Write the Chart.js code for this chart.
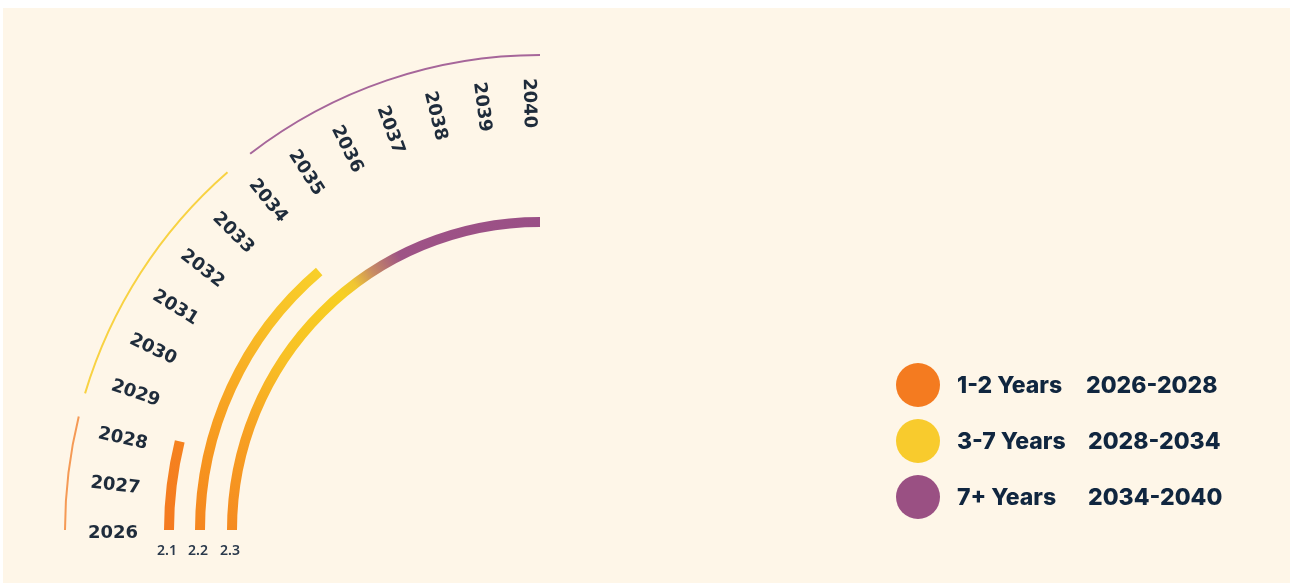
<!DOCTYPE html>
<html>
<head>
<meta charset="utf-8">
<script src="https://cdn.jsdelivr.net/npm/chart.js@4.4.1/dist/chart.umd.min.js"></script>
<style>
  html, body { margin:0; padding:0; width:1290px; height:583px; overflow:hidden; background:#ffffff; }
  #bg { position:absolute; left:3px; top:8px; right:0; bottom:0; background:#FEF6E8; }
  #wrap { position:absolute; left:0; top:0; width:1290px; height:583px; }
  #legend { position:absolute; left:0; top:0; font-family:Inter, "Noto Sans", sans-serif; font-weight:800; font-size:23px; color:#10263F; }
  .dot { position:absolute; width:44px; height:44px; border-radius:50%; }
  .txt { position:absolute; height:44px; line-height:44px; white-space:nowrap; }
</style>
</head>
<body>
<div id="bg"></div>
<div id="wrap"><canvas id="c"></canvas></div>
<div id="legend"></div>
<script>
// ---------- data ----------
const years = [2026, 2027, 2028, 2029, 2030, 2031, 2032, 2033, 2034, 2035, 2036, 2037, 2038, 2039, 2040];
const tracks = ['2.1', '2.2', '2.3'];
const trackStart = [2026, 2026, 2026];
const trackEnd = [2028.15, 2033.7, 2040];
const phases = ['1-2 Years', '3-7 Years', '7+ Years'];
const phaseRanges = ['2026-2028', '2028-2034', '2034-2040'];
const bandStart = [2026, 2028.6, 2034.15];
const bandEnd = [2028.15, 2033.6, 2040];

// ---------- styles ----------
const phaseColors = ['#F47B20', '#F8CB2D', '#9A5083'];
const bandColors = ['#F59A55', '#F8D243', '#A6669A'];
const T = 'rgba(0,0,0,0)';
const trackStops = [
  [[0, '#F47A20'], [14, '#F5821F']],
  [[0, '#F58620'], [12, '#F6951F'], [25, '#F8A923'], [38, '#F8C027'], [50, '#F8D02A']],
  [[0, '#F58A20'], [18, '#F7A022'], [34, '#F8C125'], [50, '#F7CF22'], [53, '#F0C632'], [57, '#C88C62'], [63, '#9E5386'], [90, '#9A4F86']]
];
const LABEL_SPAN = 0.988;   // label fan slightly narrower than the arc
const LABEL_SHIFT = 3;      // px, perpendicular nudge of year labels

function conic(chart, stops) {
  const { ctx, chartArea } = chart;
  if (!chartArea) return stops[0][1];
  const g = ctx.createConicGradient(Math.PI / 2, chartArea.right, chartArea.bottom);
  stops.forEach(([deg, col]) => g.addColorStop(0.25 + deg / 360, col));
  return g;
}

// ---------- build rings ----------
const first = years[0], last = years[years.length - 1];
const bandData = [], bandBg = [];
bandStart.forEach((s, i) => {
  bandData.push(bandEnd[i] - s); bandBg.push(bandColors[i]);
  if (i < bandStart.length - 1) { bandData.push(bandStart[i + 1] - bandEnd[i]); bandBg.push(T); }
});
const yearSteps = years.slice(1).map((y, i) => y - years[i]);

const OUTER = 476;
const weights = { band: 2, labels: 98, track: 10, gaps: [21, 22] };
const datasets = [
  { data: bandData, backgroundColor: bandBg, weight: weights.band },
  { data: yearSteps, backgroundColor: T, weight: weights.labels }
];
const trackRings = [];
tracks.forEach((t, k) => {
  trackRings.push(datasets.length);
  datasets.push({
    data: [trackStart[k] - first, trackEnd[k] - trackStart[k], last - trackEnd[k]],
    backgroundColor: (c) => c.dataIndex === 1 ? conic(c.chart, trackStops[k]) : T,
    weight: weights.track
  });
  if (k < tracks.length - 1) datasets.push({ data: [1], backgroundColor: T, weight: weights.gaps[k] });
});
const totalW = datasets.reduce((s, d) => s + d.weight, 0);
const LABEL_RING = 1;

const labelPlugin = {
  id: 'radialLabels',
  afterDatasetsDraw(chart) {
    const ctx = chart.ctx;
    const els = chart.getDatasetMeta(LABEL_RING).data;
    const a0 = els[0].startAngle;
    ctx.save();
    ctx.fillStyle = '#1F2C3B';
    ctx.font = 'bold 18px "DejaVu Sans"';
    ctx.textAlign = 'center';
    ctx.textBaseline = 'middle';
    years.forEach((y, i) => {
      const el = els[Math.min(i, els.length - 1)];
      const raw = i < els.length ? el.startAngle : el.endAngle;
      const a = a0 + (raw - a0) * LABEL_SPAN;
      const r = (el.innerRadius + el.outerRadius) / 2 + 2;
      ctx.save();
      ctx.translate(el.x + r * Math.cos(a), el.y + r * Math.sin(a));
      ctx.rotate(a + Math.PI);
      ctx.translate(0, LABEL_SHIFT);
      ctx.fillText(String(y), 0, 0);
      ctx.restore();
    });
    ctx.fillStyle = '#2B3A4C';
    ctx.font = '600 14px "Noto Sans"';
    trackRings.forEach((di, k) => {
      const el = chart.getDatasetMeta(di).data[1];
      const r = (el.innerRadius + el.outerRadius) / 2;
      ctx.fillText(tracks[k], el.x - r - 2, el.y + 21);
    });
    ctx.restore();
  }
};

new Chart(document.getElementById('c'), {
  type: 'doughnut',
  data: { labels: years.slice(1).map(String), datasets },
  options: {
    responsive: true,
    maintainAspectRatio: false,
    animation: false,
    events: [],
    rotation: -90,
    circumference: 90,
    cutout: ((OUTER - totalW) / OUTER * 100) + '%',
    borderWidth: 0,
    hoverOffset: 0,
    elements: { arc: { borderWidth: 0, hoverOffset: 0, offset: 0 } },
    layout: { padding: { left: 540 - OUTER, top: 530 - OUTER, right: 1290 - 540, bottom: 583 - 530 } },
    plugins: { legend: { display: false }, tooltip: { enabled: false }, colors: { enabled: false } }
  },
  plugins: [labelPlugin]
});

// ---------- legend ----------
const leg = document.getElementById('legend');
phases.forEach((p, i) => {
  const cy = 384.5 + i * 56;
  const d = document.createElement('div');
  d.className = 'dot'; d.style.left = '896px'; d.style.top = (cy - 22) + 'px'; d.style.background = phaseColors[i];
  leg.appendChild(d);
  const a = document.createElement('div');
  a.className = 'txt'; a.style.left = '957px'; a.style.top = (cy - 22) + 'px'; a.textContent = p;
  leg.appendChild(a);
  const b = document.createElement('div');
  b.className = 'txt'; b.style.left = (i === 0 ? 1086 : 1088) + 'px'; b.style.top = (cy - 22) + 'px'; b.textContent = phaseRanges[i];
  leg.appendChild(b);
});
</script>
</body>
</html>
